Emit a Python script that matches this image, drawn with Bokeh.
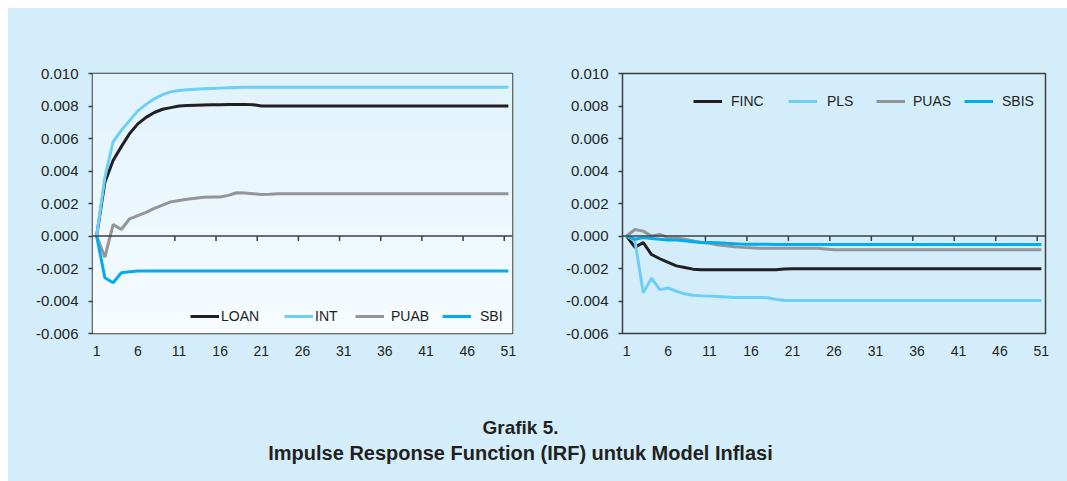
import numpy as np
from bokeh.plotting import figure
from bokeh.models import Legend, LegendItem, Span, Label, FixedTicker, PrintfTickFormatter, Range1d
from bokeh.layouts import column, row
from bokeh.embed import file_html
from bokeh.resources import INLINE

# ---------------- data ----------------
periods = list(range(1, 52))
x_tick_values = [1, 6, 11, 16, 21, 26, 31, 36, 41, 46, 51]
y_tick_values = [-0.006, -0.004, -0.002, 0.0, 0.002, 0.004, 0.006, 0.008, 0.010]

# Left panel
loan = [0.0, 0.0033, 0.00465, 0.0055, 0.0063, 0.0069, 0.0073, 0.0076, 0.0078, 0.0079,
        0.0080, 0.00803, 0.00805, 0.00806, 0.00807, 0.00808, 0.00809, 0.0081, 0.0081, 0.00808,
        0.0080, 0.0080, 0.0080, 0.0080, 0.0080, 0.0080, 0.0080, 0.0080, 0.0080, 0.0080,
        0.0080, 0.0080, 0.0080, 0.0080, 0.0080, 0.0080, 0.0080, 0.0080, 0.0080, 0.0080,
        0.0080, 0.0080, 0.0080, 0.0080, 0.0080, 0.0080, 0.0080, 0.0080, 0.0080, 0.0080,
        0.0080]
int_ = [0.0, 0.0036, 0.0058, 0.0065, 0.0071, 0.0077, 0.0081, 0.00844, 0.0087, 0.00887,
        0.00895, 0.0090, 0.00903, 0.00906, 0.00908, 0.0091, 0.00912, 0.00914, 0.00915, 0.00916,
        0.00916, 0.00916, 0.00916, 0.00916, 0.00916, 0.00916, 0.00916, 0.00916, 0.00916, 0.00916,
        0.00916, 0.00916, 0.00916, 0.00916, 0.00916, 0.00916, 0.00916, 0.00916, 0.00916, 0.00916,
        0.00916, 0.00916, 0.00916, 0.00916, 0.00916, 0.00916, 0.00916, 0.00916, 0.00916, 0.00916,
        0.00916]
puab = [0.0, -0.0013, 0.0007, 0.0004, 0.00106, 0.00126, 0.00146, 0.0017, 0.0019, 0.0021,
        0.00218, 0.00226, 0.00232, 0.00238, 0.0024, 0.0024, 0.0025, 0.00266, 0.00264, 0.0026,
        0.00255, 0.00257, 0.0026, 0.0026, 0.0026, 0.0026, 0.0026, 0.0026, 0.0026, 0.0026,
        0.0026, 0.0026, 0.0026, 0.0026, 0.0026, 0.0026, 0.0026, 0.0026, 0.0026, 0.0026,
        0.0026, 0.0026, 0.0026, 0.0026, 0.0026, 0.0026, 0.0026, 0.0026, 0.0026, 0.0026,
        0.0026]
sbi = [0.0, -0.00257, -0.00288, -0.00226, -0.0022, -0.00216, -0.00216, -0.00216, -0.00216, -0.00216,
       -0.00216, -0.00216, -0.00216, -0.00216, -0.00216, -0.00216, -0.00216, -0.00216, -0.00216, -0.00216,
       -0.00216, -0.00216, -0.00216, -0.00216, -0.00216, -0.00216, -0.00216, -0.00216, -0.00216, -0.00216,
       -0.00216, -0.00216, -0.00216, -0.00216, -0.00216, -0.00216, -0.00216, -0.00216, -0.00216, -0.00216,
       -0.00216, -0.00216, -0.00216, -0.00216, -0.00216, -0.00216, -0.00216, -0.00216, -0.00216, -0.00216,
       -0.00216]

# Right panel
finc = [0.0, -0.0007, -0.0004, -0.00114, -0.0014, -0.00163, -0.00184, -0.00194, -0.00204, -0.00207,
        -0.00207, -0.00207, -0.00207, -0.00207, -0.00207, -0.00207, -0.00207, -0.00207, -0.00207, -0.00203,
        -0.00202, -0.00202, -0.00202, -0.00202, -0.00202, -0.00202, -0.00202, -0.00202, -0.00202, -0.00202,
        -0.00202, -0.00202, -0.00202, -0.00202, -0.00202, -0.00202, -0.00202, -0.00202, -0.00202, -0.00202,
        -0.00202, -0.00202, -0.00202, -0.00202, -0.00202, -0.00202, -0.00202, -0.00202, -0.00202, -0.00202,
        -0.00202]
pls = [0.0, -0.0003, -0.0035, -0.0026, -0.0033, -0.0032, -0.0034, -0.00356, -0.00364, -0.00368,
       -0.0037, -0.00372, -0.00375, -0.00378, -0.00378, -0.00378, -0.00378, -0.0038, -0.0039, -0.00397,
       -0.00397, -0.00397, -0.00397, -0.00397, -0.00397, -0.00397, -0.00397, -0.00397, -0.00397, -0.00397,
       -0.00397, -0.00397, -0.00397, -0.00397, -0.00397, -0.00397, -0.00397, -0.00397, -0.00397, -0.00397,
       -0.00397, -0.00397, -0.00397, -0.00397, -0.00397, -0.00397, -0.00397, -0.00397, -0.00397, -0.00397,
       -0.00397]
puas = [0.0, 0.0004, 0.0003, 0.0, 0.0001, -0.0001, -0.00012, -0.0002, -0.0003, -0.0004,
        -0.00045, -0.00055, -0.0006, -0.00066, -0.0007, -0.00073, -0.00075, -0.00075, -0.00075, -0.00075,
        -0.00075, -0.00075, -0.00075, -0.00075, -0.0008, -0.00085, -0.00085, -0.00085, -0.00085, -0.00085,
        -0.00085, -0.00085, -0.00085, -0.00085, -0.00085, -0.00085, -0.00085, -0.00085, -0.00085, -0.00085,
        -0.00085, -0.00085, -0.00085, -0.00085, -0.00085, -0.00085, -0.00085, -0.00085, -0.00085, -0.00085,
        -0.00085]
sbis = [0.0, -0.0002, -0.0001, -0.00015, -0.0002, -0.00025, -0.00025, -0.0003, -0.00035, -0.0004,
        -0.0004, -0.00042, -0.00045, -0.00047, -0.0005, -0.0005, -0.0005, -0.00051, -0.00052, -0.00053,
        -0.00053, -0.00053, -0.00053, -0.00053, -0.00053, -0.00053, -0.00053, -0.00053, -0.00053, -0.00053,
        -0.00053, -0.00053, -0.00053, -0.00053, -0.00053, -0.00053, -0.00053, -0.00053, -0.00053, -0.00053,
        -0.00053, -0.00053, -0.00053, -0.00053, -0.00053, -0.00053, -0.00053, -0.00053, -0.00053, -0.00053,
        -0.00053]

left_series = [("LOAN", loan), ("INT", int_), ("PUAB", puab), ("SBI", sbi)]
right_series = [("FINC", finc), ("PLS", pls), ("PUAS", puas), ("SBIS", sbis)]

title_1 = "Grafik 5."
title_2 = "Impulse Response Function (IRF) untuk Model Inflasi"

# ---------------- style ----------------
BG = "#d3eefa"
TXT = "#231f20"
AX = "#3f3f41"
FONT = "Liberation Sans"
COLORS = ["#231f20", "#6dcff6", "#939598", "#00aeef"]

left_legend_pos = [(98, 7, 2), (192, 7, 2), (263, 7, 7), (350, 7, 9)]
right_legend_pos = [(71, 222, 9), (166, 222, 10), (254, 222, 8), (342, 222, 9)]


def make_panel(series, width, border_right, legend_pos, gradient):
    p = figure(width=width, height=360, x_range=Range1d(0.5, 51.5), y_range=Range1d(-0.006, 0.010),
               toolbar_location=None, output_backend="svg",
               min_border_left=84, min_border_right=border_right, min_border_top=65, min_border_bottom=35,
               styles={"background-color": BG})
    p.border_fill_color = BG
    p.background_fill_color = BG
    p.outline_line_color = AX
    p.outline_line_width = 1.5
    p.grid.visible = False

    if gradient:
        n = 260
        top = np.array([0xe1, 0xf3, 0xfc], dtype=float)
        bot = np.array([0xf7, 0xfc, 0xff], dtype=float)
        img = np.empty((n, 1), dtype=np.uint32)
        view = img.view(dtype=np.uint8).reshape((n, 1, 4))
        for k in range(n):
            t = k / (n - 1)
            c = bot + (top - bot) * t
            view[k, 0, 0:3] = c.astype(np.uint8)
            view[k, 0, 3] = 255
        p.image_rgba(image=[img], x=0.5, y=-0.006, dw=51, dh=0.016, level="image")

    # zero line with category-boundary ticks
    p.add_layout(Span(location=0, dimension="width", line_color=AX, line_width=1.5))
    bounds = [v + 4.5 for v in x_tick_values[1:]]
    p.segment(x0=bounds, y0=[0.0] * len(bounds), x1=bounds, y1=[-0.0003] * len(bounds),
              line_color=AX, line_width=1.5)

    renderers = []
    for (name, vals), col in zip(series, COLORS):
        r = p.line(periods, vals, line_color=col, line_width=3)
        renderers.append((name, r))

    for (name, r), (lx, ly, so) in zip(renderers, legend_pos):
        leg = Legend(items=[LegendItem(label=name, renderers=[r])], location=(lx, ly),
                     orientation="horizontal", glyph_width=29, glyph_height=20, label_standoff=so,
                     padding=0, margin=0, border_line_color=None, background_fill_alpha=0,
                     label_text_font=FONT, label_text_font_size="14px", label_text_color=TXT)
        p.add_layout(leg)

    xa = p.xaxis[0]
    xa.ticker = FixedTicker(ticks=x_tick_values)
    xa.axis_line_color = None
    xa.major_tick_line_color = None
    xa.minor_tick_line_color = None
    xa.major_tick_out = 0
    xa.major_label_standoff = 12
    xa.major_label_text_font = FONT
    xa.major_label_text_font_size = "14px"
    xa.major_label_text_color = TXT

    ya = p.yaxis[0]
    ya.ticker = FixedTicker(ticks=y_tick_values)
    ya.formatter = PrintfTickFormatter(format="%.3f")
    ya.axis_line_color = None
    ya.major_tick_line_color = AX
    ya.major_tick_line_width = 1.5
    ya.major_tick_out = 4
    ya.major_tick_in = 0
    ya.minor_tick_line_color = None
    ya.major_label_standoff = 10
    ya.major_label_text_font = FONT
    ya.major_label_text_font_size = "15px"
    ya.major_label_text_color = TXT
    return p


p1 = make_panel(left_series, 530, 26, left_legend_pos, True)
p2 = make_panel(right_series, 529, 22, right_legend_pos, False)

pt = figure(width=1059, height=113, x_range=(0, 1), y_range=(0, 1), toolbar_location=None,
            output_backend="svg", x_axis_location=None, y_axis_location=None, min_border=0,
            styles={"background-color": BG})
pt.grid.visible = False
pt.outline_line_color = None
pt.background_fill_color = BG
pt.border_fill_color = BG
for txt, yy, fs in [(title_1, 54, "19px"), (title_2, 29, "20px")]:
    pt.add_layout(Label(x=512, y=yy, x_units="screen", y_units="screen", text=txt,
                        text_align="center", text_baseline="alphabetic", text_font=FONT,
                        text_font_style="bold", text_font_size=fs, text_color=TXT))

top_row = row(p1, p2, spacing=0, styles={"background-color": BG})
layout = column(top_row, pt, spacing=0, margin=(8, 0, 0, 8), styles={"background-color": BG})
open("out.html", "w").write(file_html(layout, INLINE))
